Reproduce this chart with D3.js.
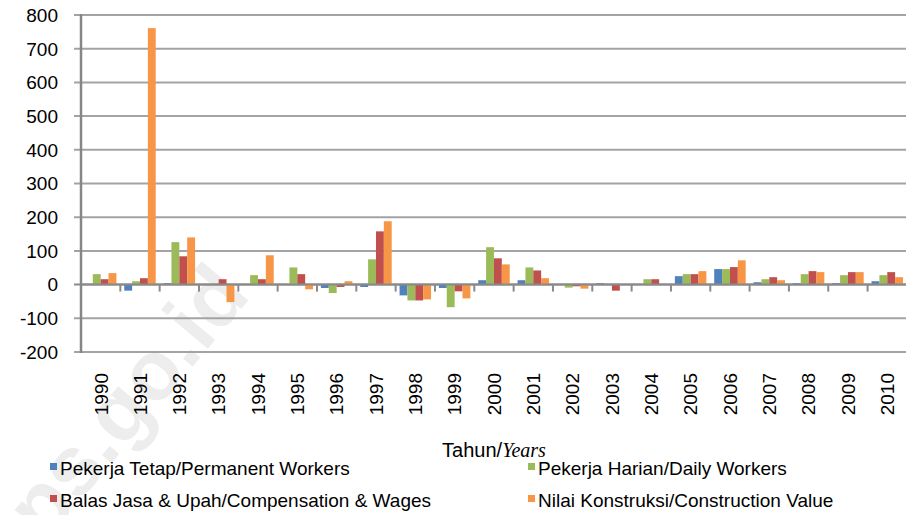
<!DOCTYPE html>
<html>
<head>
<meta charset="utf-8">
<script src="https://cdn.jsdelivr.net/npm/d3@7"></script>
<style>
  body { margin: 0; background: #ffffff; }
  svg { display: block; font-family: "Liberation Sans", Arial, sans-serif; }
</style>
</head>
<body>
<div id="chart-area"></div>
<script>
var w = 906;
var h = 515;

// data
const years = ["1990","1991","1992","1993","1994","1995","1996","1997","1998","1999","2000",
               "2001","2002","2003","2004","2005","2006","2007","2008","2009","2010"];
const permanent    = [0, -18, 4, 0, 0, 0, -10, -7, -32, -10, 13, 13, 0, 4, 0, 25, 46, 7, 4, 4, 10];
const daily        = [31, 10, 126, 0, 28, 51, -25, 75, -47, -67, 111, 51, -9, 0, 16, 31, 46, 16, 31, 28, 28];
const compensation = [16, 19, 84, 16, 16, 31, -7, 158, -47, -20, 78, 42, -5, -18, 16, 31, 52, 22, 40, 37, 37];
const construction = [34, 761, 140, -52, 87, -14, 10, 188, -44, -41, 60, 19, -12, 0, 0, 40, 72, 13, 37, 37, 22];
const seriesNames = ["Pekerja Tetap/Permanent Workers", "Pekerja Harian/Daily Workers",
                     "Balas Jasa & Upah/Compensation & Wages", "Nilai Konstruksi/Construction Value"];
const seriesColors = ["#4f81bd", "#9bbb59", "#c0504d", "#f79646"];
const yTicks = [-200, -100, 0, 100, 200, 300, 400, 500, 600, 700, 800];

const allSeries = [permanent, daily, compensation, construction];

var svg = d3.select("#chart-area").append("svg")
    .attr("width", w)
    .attr("height", h);

// faint watermark behind the chart
svg.append("text")
    .attr("transform", "translate(252,296) rotate(-50)")
    .attr("text-anchor", "end")
    .attr("font-size", 84)
    .attr("font-weight", "bold")
    .attr("fill", "#ededed")
    .text("bps.go.id");

const x = d3.scaleBand()
    .domain(years)
    .range([81, 81 + 21 * 39.33])
    .padding(0);

const xSub = d3.scaleBand()
    .domain(d3.range(4))
    .range([0, x.bandwidth()])
    .paddingInner(0)
    .paddingOuter(0.5);

const y = d3.scaleLinear()
    .domain([-200, 800])
    .range([352, 15]);

// gridlines
svg.append("g")
    .selectAll("line")
    .data(yTicks)
    .enter().append("line")
    .attr("x1", 74)
    .attr("x2", x.range()[1])
    .attr("y1", d => y(d))
    .attr("y2", d => y(d))
    .attr("stroke", d => d === 0 ? "#8a8a8a" : "#a3a3a3")
    .attr("stroke-width", 2);

// y labels
svg.append("g")
    .selectAll("text")
    .data(yTicks)
    .enter().append("text")
    .attr("x", 58)
    .attr("y", d => y(d))
    .attr("dy", "0.36em")
    .attr("text-anchor", "end")
    .attr("font-size", 19)
    .attr("fill", "#000")
    .text(d => d);

// bars
allSeries.forEach(function(vals, i) {
    svg.append("g")
        .selectAll("rect")
        .data(vals)
        .enter().append("rect")
        .attr("x", (d, j) => x(years[j]) + xSub(i))
        .attr("width", xSub.bandwidth())
        .attr("y", d => y(Math.max(0, d)))
        .attr("height", d => Math.abs(y(d) - y(0)))
        .attr("fill", seriesColors[i]);
});

// zero line on top, x tick marks
svg.append("line")
    .attr("x1", 81).attr("x2", x.range()[1])
    .attr("y1", y(0)).attr("y2", y(0))
    .attr("stroke", "#8a8a8a")
    .attr("stroke-width", 2);

svg.append("g")
    .selectAll("line")
    .data(years.slice(1))
    .enter().append("line")
    .attr("x1", d => x(d))
    .attr("x2", d => x(d))
    .attr("y1", y(0))
    .attr("y2", y(0) + 7)
    .attr("stroke", "#8a8a8a")
    .attr("stroke-width", 2);

// y axis line
svg.append("line")
    .attr("x1", 81).attr("x2", 81)
    .attr("y1", y(800) - 1).attr("y2", y(-200) + 1)
    .attr("stroke", "#868686")
    .attr("stroke-width", 2.5);

// x labels (rotated)
svg.append("g")
    .selectAll("text")
    .data(years)
    .enter().append("text")
    .attr("transform", d => "translate(" + (x(d) + x.bandwidth() / 2) + ",373) rotate(-90)")
    .attr("dy", "0.36em")
    .attr("text-anchor", "end")
    .attr("font-size", 19)
    .attr("fill", "#000")
    .text(d => d);

// axis title
const title = svg.append("text")
    .attr("x", 494)
    .attr("y", 457)
    .attr("text-anchor", "middle")
    .attr("font-size", 20)
    .attr("fill", "#000");
title.append("tspan").text("Tahun/");
title.append("tspan")
    .attr("font-family", "'Liberation Serif', 'Times New Roman', serif")
    .attr("font-style", "italic")
    .text("Years");

// legend
const legendPos = [[50, 475], [528, 475], [50, 507], [528, 507]];
const legend = svg.append("g")
    .selectAll("g")
    .data(seriesNames)
    .enter().append("g")
    .attr("transform", (d, i) => "translate(" + legendPos[i][0] + "," + legendPos[i][1] + ")");

legend.append("rect")
    .attr("x", 0)
    .attr("y", -12)
    .attr("width", 7)
    .attr("height", 7)
    .attr("fill", (d, i) => seriesColors[i]);

legend.append("text")
    .attr("x", 10)
    .attr("y", 0)
    .attr("font-size", 19)
    .attr("fill", "#000")
    .text(d => d);
</script>
</body>
</html>
